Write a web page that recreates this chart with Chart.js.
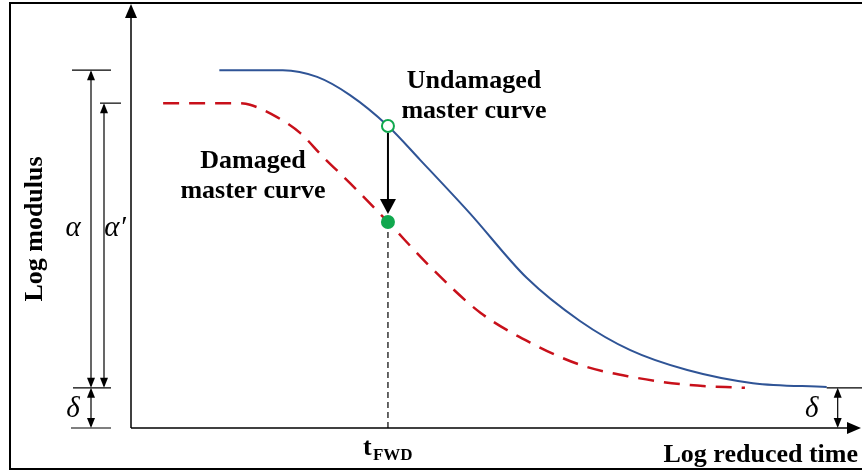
<!DOCTYPE html>
<html>
<head>
<meta charset="utf-8">
<script src="https://cdn.jsdelivr.net/npm/chart.js@4.4.0/dist/chart.umd.min.js"></script>
<style>
    html, body { margin: 0; padding: 0; background: #fff; }
</style>
</head>
<body>
<canvas id="masterCurveChart" width="862" height="471"></canvas>
<script>
// Undamaged master curve (log reduced time, log modulus), arbitrary units
const undamagedTime = [1.21, 2.08, 2.55, 3.00, 3.52, 3.96, 4.64, 5.42, 6.15, 6.84, 7.62, 8.52, 9.53];
const undamagedModulus = [8.46, 8.46, 8.30, 7.87, 7.14, 6.34, 5.08, 3.55, 2.53, 1.84, 1.37, 1.06, 0.97];

// Damaged master curve
const damagedTime = [0.44, 1.40, 1.63, 2.00, 2.32, 2.63, 3.00, 3.52, 4.10, 4.79, 5.48, 6.16, 6.85, 7.62, 8.41];
const damagedModulus = [7.68, 7.68, 7.64, 7.35, 6.97, 6.41, 5.79, 4.87, 3.81, 2.72, 2.01, 1.49, 1.21, 1.02, 0.95];

// FWD loading time and the two modulus values there
const tFwd = 3.52;
const fwdModulus = [7.14, 4.87]; // undamaged, damaged
const deltaLevel = 0.95;

const BLUE = '#2f5496';
const RED = '#c8101a';
const GREEN = '#10a84e';

function toPoints(xs, ys) {
    return xs.map((x, i) => ({ x: x, y: ys[i] }));
}

function arrowHead(ctx, x, y, dir, len, half) {
    // dir: 'up', 'down', 'right'
    ctx.beginPath();
    ctx.moveTo(x, y);
    if (dir === 'up') {
        ctx.lineTo(x - half, y + len);
        ctx.lineTo(x + half, y + len);
    } else if (dir === 'down') {
        ctx.lineTo(x - half, y - len);
        ctx.lineTo(x + half, y - len);
    } else {
        ctx.lineTo(x - len, y - half);
        ctx.lineTo(x - len, y + half);
    }
    ctx.closePath();
    ctx.fill();
}

function line(ctx, x1, y1, x2, y2) {
    ctx.beginPath();
    ctx.moveTo(x1, y1);
    ctx.lineTo(x2, y2);
    ctx.stroke();
}

function dimension(ctx, x, yTop, yBottom) {
    line(ctx, x, yTop + 2, x, yBottom - 2);
    arrowHead(ctx, x, yTop, 'up', 10, 4);
    arrowHead(ctx, x, yBottom, 'down', 10, 4);
}

const annotate = {
    id: 'annotate',
    afterDraw(chart) {
        const { ctx, chartArea: a, scales: { x, y } } = chart;
        ctx.save();
        ctx.strokeStyle = '#000';
        ctx.fillStyle = '#000';

        // outer frame
        ctx.lineWidth = 2;
        ctx.strokeRect(10, 3, 880, 466);

        // axes with arrows
        ctx.lineWidth = 1.5;
        line(ctx, a.left, a.bottom, a.left, a.top + 8);
        line(ctx, a.left, a.bottom, a.right - 8, a.bottom);
        arrowHead(ctx, a.left, a.top - 1, 'up', 14, 6);
        arrowHead(ctx, a.right, a.bottom, 'right', 14, 6);

        const yTop = y.getPixelForValue(undamagedModulus[0]);
        const yTop2 = y.getPixelForValue(damagedModulus[0]);
        const yDelta = y.getPixelForValue(deltaLevel);
        const yZero = y.getPixelForValue(0);

        // left dimension lines
        ctx.lineWidth = 1.2;
        line(ctx, a.left - 59, yTop, a.left - 20, yTop);
        line(ctx, a.left - 31, yTop2, a.left - 10, yTop2);
        line(ctx, a.left - 58, yDelta, a.left - 20, yDelta);
        line(ctx, a.left - 60, yZero, a.left - 20, yZero);
        dimension(ctx, a.left - 40, yTop, yDelta);
        dimension(ctx, a.left - 27, yTop2, yDelta);
        dimension(ctx, a.left - 40, yDelta, yZero);

        // right delta
        const xEnd = x.getPixelForValue(undamagedTime[undamagedTime.length - 1]);
        line(ctx, xEnd, yDelta, a.right + 5, yDelta);
        dimension(ctx, xEnd + 11, yDelta, yZero);

        // arrow from undamaged to damaged at tFWD
        const xf = x.getPixelForValue(tFwd);
        const yu = y.getPixelForValue(fwdModulus[0]);
        const yd = y.getPixelForValue(fwdModulus[1]);
        ctx.lineWidth = 2;
        line(ctx, xf, yu + 7, xf, yd - 20);
        arrowHead(ctx, xf, yd - 8, 'down', 15, 8);

        // Greek labels
        ctx.font = 'italic 29px "Liberation Serif"';
        ctx.textAlign = 'center';
        ctx.textBaseline = 'alphabetic';
        const yMid = (yTop + yDelta) / 2 + 7;
        ctx.fillText('\u03b1', a.left - 58, yMid);
        ctx.fillText('\u03b1\u2032', a.left - 16, yMid);
        ctx.fillText('\u03b4', a.left - 58, (yDelta + yZero) / 2 + 9);
        ctx.fillText('\u03b4', xEnd - 15, (yDelta + yZero) / 2 + 9);

        // text labels
        ctx.font = 'bold 26px "Liberation Serif"';
        ctx.fillText('Undamaged', xf + 86, yu - 38);
        ctx.fillText('master curve', xf + 86, yu - 8);
        ctx.fillText('Damaged', xf - 135, yu + 42);
        ctx.fillText('master curve', xf - 135, yu + 72);

        ctx.textAlign = 'right';
        ctx.fillText('Log reduced time', a.right - 3, a.bottom + 34);

        // t_FWD
        ctx.textAlign = 'left';
        ctx.fillText('t', xf - 25, a.bottom + 27);
        ctx.font = 'bold 17px "Liberation Serif"';
        ctx.fillText('FWD', xf - 15, a.bottom + 32);

        // y axis title
        ctx.font = 'bold 26px "Liberation Serif"';
        ctx.translate(42, 229);
        ctx.rotate(-Math.PI / 2);
        ctx.textAlign = 'center';
        ctx.fillText('Log modulus', 0, 0);
        ctx.restore();
    }
};

new Chart(document.getElementById('masterCurveChart').getContext('2d'), {
    type: 'line',
    data: {
        datasets: [
            {
                label: 'Undamaged FWD point',
                data: [{ x: tFwd, y: fwdModulus[0] }],
                showLine: false,
                pointRadius: 6,
                pointBackgroundColor: '#fff',
                pointBorderColor: GREEN,
                pointBorderWidth: 2,
                order: 0
            },
            {
                label: 'Damaged FWD point',
                data: [{ x: tFwd, y: fwdModulus[1] }],
                showLine: false,
                pointRadius: 7,
                pointBackgroundColor: GREEN,
                pointBorderColor: GREEN,
                pointBorderWidth: 0,
                order: 0
            },
            {
                label: 'Undamaged master curve',
                data: toPoints(undamagedTime, undamagedModulus),
                borderColor: BLUE,
                borderWidth: 2,
                pointRadius: 0,
                cubicInterpolationMode: 'monotone',
                order: 1
            },
            {
                label: 'Damaged master curve',
                data: toPoints(damagedTime, damagedModulus),
                borderColor: RED,
                borderWidth: 2.5,
                borderDash: [16, 10],
                pointRadius: 0,
                cubicInterpolationMode: 'monotone',
                order: 1
            },
            {
                label: 'tFWD',
                data: [{ x: tFwd, y: 0 }, { x: tFwd, y: fwdModulus[1] }],
                borderColor: '#000',
                borderWidth: 1.2,
                borderDash: [6, 4],
                pointRadius: 0,
                order: 2
            }
        ]
    },
    options: {
        responsive: false,
        animation: false,
        layout: {
            autoPadding: false,
            padding: { left: 131, right: 1, top: 5, bottom: 43 }
        },
        plugins: {
            legend: { display: false },
            tooltip: { enabled: false }
        },
        scales: {
            x: { type: 'linear', min: 0, max: 10, display: false },
            y: { type: 'linear', min: 0, max: 10, display: false }
        }
    },
    plugins: [annotate]
});
</script>
</body>
</html>
